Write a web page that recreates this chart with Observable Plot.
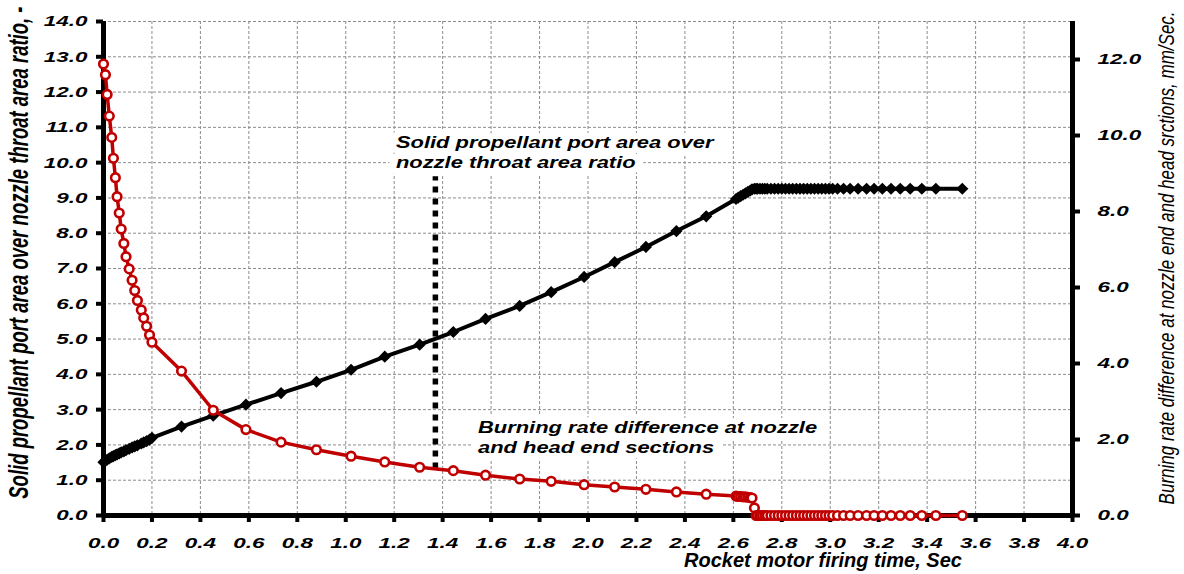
<!DOCTYPE html>
<html>
<head>
<meta charset="utf-8">
<script src="https://cdn.jsdelivr.net/npm/d3@7"></script>
<script src="https://cdn.jsdelivr.net/npm/@observablehq/plot@0.6"></script>
<style>
  html, body { margin: 0; padding: 0; background: #fff; }
  svg { display: block; }
</style>
</head>
<body>
<div id="chart"></div>
<script>
// ---- data ----
// firing time, s
const time = [
  0.000, 0.008, 0.015, 0.024, 0.034, 0.041, 0.049, 0.056, 0.065, 0.073, 0.084,
  0.093, 0.106, 0.118, 0.129, 0.140, 0.156, 0.166, 0.178, 0.190, 0.200,
  0.322, 0.453, 0.588, 0.733, 0.879, 1.022, 1.161, 1.305, 1.444, 1.577, 1.718,
  1.848, 1.984, 2.110, 2.239, 2.365, 2.488,
  2.611, 2.620, 2.630, 2.640, 2.650, 2.660, 2.670, 2.677, 2.687, 2.694,
  2.700, 2.710, 2.720, 2.730, 2.740, 2.755, 2.770, 2.785, 2.800, 2.815, 2.830,
  2.845, 2.860, 2.875, 2.890, 2.905, 2.920, 2.935, 2.950, 2.965, 2.980, 2.995,
  3.010, 3.030, 3.055, 3.082, 3.115, 3.150, 3.181, 3.215, 3.251, 3.289, 3.330,
  3.378, 3.436, 3.545
];
// port area / nozzle throat area ratio (left axis)
const portAreaRatio = [
  1.51, 1.55, 1.58, 1.62, 1.66, 1.68, 1.71, 1.73, 1.76, 1.79, 1.82,
  1.85, 1.89, 1.93, 1.96, 1.99, 2.04, 2.07, 2.11, 2.15, 2.20,
  2.52, 2.83, 3.14, 3.47, 3.79, 4.13, 4.50, 4.84, 5.20, 5.57, 5.94,
  6.33, 6.76, 7.18, 7.61, 8.06, 8.48,
  8.97, 9.01, 9.05, 9.09, 9.13, 9.17, 9.21, 9.24, 9.26, 9.26,
  9.26, 9.26, 9.26, 9.26, 9.26, 9.26, 9.26, 9.26, 9.26, 9.26, 9.26,
  9.26, 9.26, 9.26, 9.26, 9.26, 9.26, 9.26, 9.26, 9.26, 9.26, 9.26,
  9.26, 9.26, 9.26, 9.26, 9.26, 9.26, 9.26, 9.26, 9.26, 9.26, 9.26,
  9.26, 9.26, 9.26
];
// burning rate difference, mm/s (right axis)
const burnRateDiff = [
  11.88, 11.60, 11.08, 10.51, 9.95, 9.40, 8.89, 8.39, 7.96, 7.54, 7.16,
  6.81, 6.49, 6.19, 5.92, 5.66, 5.41, 5.20, 4.98, 4.75, 4.56,
  3.80, 2.77, 2.26, 1.93, 1.73, 1.56, 1.41, 1.27, 1.18, 1.06, 0.96,
  0.90, 0.81, 0.75, 0.69, 0.62, 0.56,
  0.51, 0.50, 0.50, 0.49, 0.49, 0.48, 0.47, 0.46, 0.20, 0.00,
  0, 0, 0, 0, 0, 0, 0, 0, 0, 0, 0,
  0, 0, 0, 0, 0, 0, 0, 0, 0, 0, 0,
  0, 0, 0, 0, 0, 0, 0, 0, 0, 0, 0,
  0, 0, 0
];

const xTicks = [0.0, 0.2, 0.4, 0.6, 0.8, 1.0, 1.2, 1.4, 1.6, 1.8, 2.0, 2.2, 2.4, 2.6, 2.8, 3.0, 3.2, 3.4, 3.6, 3.8, 4.0];
const leftTicks = [0, 1, 2, 3, 4, 5, 6, 7, 8, 9, 10, 11, 12, 13, 14];
const rightTicks = [0, 2, 4, 6, 8, 10, 12];
const xDomain = [0, 4];
const leftDomain = [0, 14];
const rightDomain = [0, 13];

const noteLines = [
  "Solid propellant port area over",
  "nozzle throat area ratio",
  "Burning rate difference at nozzle",
  "and head end sections"
];
const noteX = [1.207, 1.207, 1.546, 1.546];
const noteY = [10.55, 10.0, 2.48, 1.93];
const leaderX = [1.37];
const leaderTop = [9.6];
const leaderBottom = [1.32];

const xTitle = "Rocket motor firing time, Sec";
const leftTitle = "Solid propellant port area over nozzle throat area ratio, -";
const rightTitle = "Burning rate difference at nozzle end and head srctions, mm/Sec.";

// ---- build ----
const k = leftDomain[1] / rightDomain[1];
const rows = time.map((t, i) => ({t, ratio: portAreaRatio[i], burn: burnRateDiff[i] * k}));
const notes = noteLines.map((text, i) => ({text, x: noteX[i], y: noteY[i]}));
const leader = leaderX.map((x, i) => ({x, y1: leaderBottom[i], y2: leaderTop[i]}));
const fmt = d3.format(".1f");
const FONT = '"Liberation Sans", Arial, Helvetica, sans-serif';
const RED = "#c00000";
const GRID = {stroke: "#8c8c8c", strokeOpacity: 1, strokeWidth: 1, strokeDasharray: "3,2"};
const TICKTEXT = {fontSize: 15.5, fontWeight: "bold", fontStyle: "italic", strokeWidth: 4, label: null};

const chart = Plot.plot({
  width: 1184,
  height: 574,
  marginLeft: 103,
  marginRight: 112,
  marginTop: 21,
  marginBottom: 59,
  x: {domain: xDomain},
  y: {domain: leftDomain},
  style: {fontFamily: FONT, background: "#fff", color: "#000", overflow: "visible"},
  marks: [
    Plot.gridX(xTicks.filter(d => d > 0), GRID),
    Plot.gridY(leftTicks.filter(d => d > 0), GRID),
    Plot.text(notes, {x: "x", y: "y", text: "text", textAnchor: "start", lineAnchor: "middle",
      fontSize: 16, fontWeight: "bold", fontStyle: "italic", fill: "#000", stroke: "#fff", strokeWidth: 12}),
    Plot.ruleX(leader, {x: "x", y1: "y1", y2: "y2", stroke: "#000", strokeWidth: 5.5, strokeDasharray: "6,6"}),
    Plot.ruleX([xDomain[0], xDomain[1]], {stroke: "#000", strokeWidth: 5}),
    Plot.ruleY([0], {stroke: "#000", strokeWidth: 5}),
    Plot.axisX(xTicks, {...TICKTEXT, tickFormat: fmt, tickSize: 7, tickPadding: 14}),
    Plot.axisY(leftTicks, {...TICKTEXT, anchor: "left", tickFormat: fmt, tickSize: 7, tickPadding: 9}),
    Plot.axisY(rightTicks.map(v => v * k), {...TICKTEXT, anchor: "right", tickFormat: d => fmt(d / k), tickSize: 7, tickPadding: 18}),
    Plot.line(rows, {x: "t", y: "ratio", stroke: "#000", strokeWidth: 4}),
    Plot.dot(rows, {x: "t", y: "ratio", symbol: "diamond2", r: 5.5, fill: "#000"}),
    Plot.line(rows, {x: "t", y: "burn", stroke: RED, strokeWidth: 3.5}),
    Plot.dot(rows, {x: "t", y: "burn", r: 4.3, stroke: RED, strokeWidth: 2.6, fill: "#fff"}),
    Plot.text([xTitle], {x: 2.97, frameAnchor: "bottom", dy: 45, lineAnchor: "middle", textAnchor: "middle",
      fontSize: 20, fontWeight: "bold", fontStyle: "italic", fill: "#000"}),
    Plot.text([leftTitle], {frameAnchor: "left", y: 7.45, dx: -84, rotate: -90, lineAnchor: "middle", textAnchor: "middle",
      fontSize: 18.5, fontWeight: "bold", fontStyle: "italic", fill: "#000"}),
    Plot.text([rightTitle], {frameAnchor: "right", y: 7.3, dx: 94, rotate: -90, lineAnchor: "middle", textAnchor: "middle",
      fontSize: 17, fontStyle: "italic", fill: "#000"})
  ]
});

document.getElementById("chart").appendChild(chart);

// horizontal stretch of text, like the widened original
function stretch(el, s) {
  const t = el.getAttribute("transform");
  if (t && t.includes("rotate")) {
    el.setAttribute("transform", t.replace("rotate", `scale(${s},1) rotate`));
  } else if (t) {
    el.setAttribute("transform", `${t} scale(${s},1)`);
  } else {
    const x = parseFloat(el.getAttribute("x")) || 0;
    el.removeAttribute("x");
    el.setAttribute("transform", `translate(${x},0) scale(${s},1)`);
  }
}
const tickRe = /^\d+\.\d$/;
chart.querySelectorAll("text").forEach(el => {
  const s = el.textContent;
  if (tickRe.test(s)) {
    el.setAttribute("font-weight", "bold");
    el.setAttribute("font-style", "italic");
    stretch(el, 1.45);
  } else if (noteLines.includes(s)) {
    stretch(el, 1.37);
    el.setAttribute("paint-order", "stroke");
    el.setAttribute("stroke-linejoin", "round");
  } else if (s === leftTitle) {
    stretch(el, 1.45);
  } else if (s === rightTitle) {
    stretch(el, 1.3);
  }
});
chart.querySelectorAll('g[aria-label$="tick"]').forEach(g => {
  g.setAttribute("stroke-width", "4");
  g.setAttribute("stroke", "#000");
});
</script>
</body>
</html>
